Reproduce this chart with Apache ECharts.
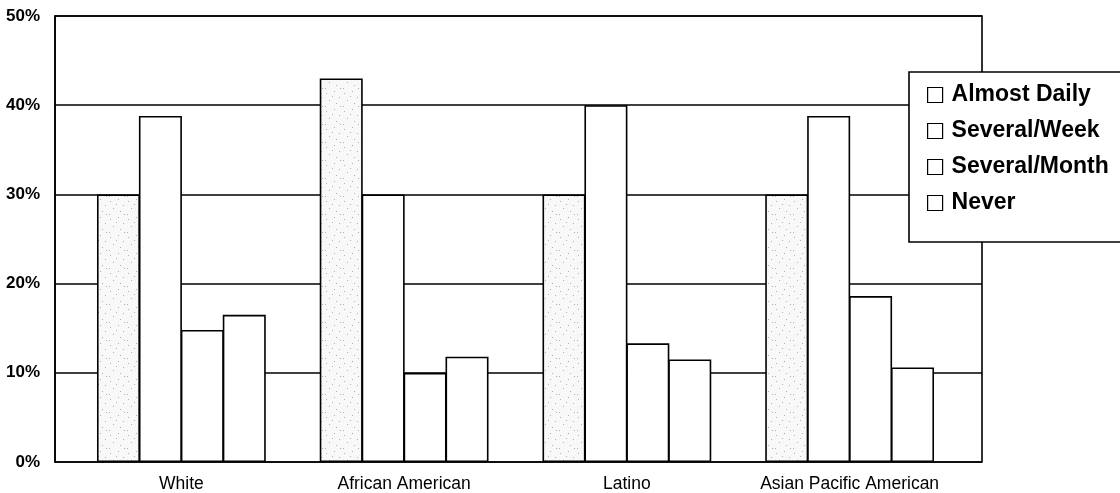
<!DOCTYPE html>
<html>
<head>
<meta charset="utf-8">
<script src="https://cdn.jsdelivr.net/npm/echarts@6/dist/echarts.min.js"></script>
<style>
  html, body { margin: 0; padding: 0; background: #fff; }
  #chart { width: 1120px; height: 493px; }
</style>
</head>
<body>
<div id="chart"></div>
<script>
// Groups along the horizontal axis
const categories = ['White', 'African American', 'Latino', 'Asian Pacific American'];

// Share of each group (percent) per frequency
const almostDaily  = [30, 43, 30, 30];
const severalWeek  = [38.8, 30, 40, 38.8];
const severalMonth = [14.8, 10, 13.3, 18.6];
const never        = [16.5, 11.8, 11.5, 10.6];

const seriesNames = ['Almost Daily', 'Several/Week', 'Several/Month', 'Never'];
const yTicks = [0, 10, 20, 30, 40, 50];

// Light speckled texture for the first series
function speckle() {
  const c = document.createElement('canvas');
  c.width = 18; c.height = 18;
  const g = c.getContext('2d');
  g.fillStyle = '#f8f8f8';
  g.fillRect(0, 0, 18, 18);
  const dots = [[2,3],[10,1],[15,7],[5,10],[12,13],[1,16],[8,6],[16,16]];
  g.fillStyle = '#b0b0b0';
  dots.forEach(([x, y]) => g.fillRect(x, y, 1, 1));
  return c;
}

const chart = echarts.init(document.getElementById('chart'), null, { renderer: 'canvas' });

const font = '"Liberation Sans", Arial, sans-serif';
const border = { borderColor: '#000', borderWidth: 1.6 };

const fills = [
  { image: speckle(), repeat: 'repeat' },
  '#fff', '#fff', '#fff'
];
const values = [almostDaily, severalWeek, severalMonth, never];

chart.setOption({
  animation: false,
  backgroundColor: '#fff',
  grid: [
    // frame with the gridlines
    { left: 55, right: 138, top: 16, bottom: 31, show: true, borderColor: '#000', borderWidth: 1.6, backgroundColor: 'transparent' },
    // bars
    { left: 70, right: 159, top: 16, bottom: 31 }
  ],
  xAxis: [
    { gridIndex: 0, type: 'value', min: 0, max: 1, show: false },
    {
      gridIndex: 1, type: 'category', data: categories, boundaryGap: true,
      axisLine: { show: false }, axisTick: { show: false },
      axisLabel: { interval: 0, margin: 13, color: '#000', fontSize: 17.5, fontFamily: font }
    }
  ],
  yAxis: [
    {
      gridIndex: 0, type: 'value', min: yTicks[0], max: yTicks[yTicks.length - 1], interval: 10,
      axisLine: { show: true, lineStyle: { color: '#000', width: 1.6 } },
      axisTick: { show: false },
      splitLine: { show: true, lineStyle: { color: '#000', width: 1.6 } },
      axisLabel: { formatter: '{value}%', margin: 15, color: '#000', fontSize: 17, fontWeight: 'bold', fontFamily: font }
    },
    { gridIndex: 1, type: 'value', min: 0, max: 50, interval: 10, show: false, splitLine: { show: false } }
  ],
  legend: {
    orient: 'vertical',
    left: 909, top: 72,
    padding: [11, 20, 27, 18],
    itemGap: 12,
    itemWidth: 15, itemHeight: 15,
    icon: 'rect',
    backgroundColor: '#fff',
    borderColor: '#000', borderWidth: 1.6,
    itemStyle: { color: '#fff', borderColor: '#000', borderWidth: 1.2 },
    textStyle: { color: '#000', fontSize: 23, fontWeight: 'bold', fontFamily: font, lineHeight: 24, padding: [0, 0, 0, 4] },
    data: seriesNames
  },
  series: values.map((v, i) => ({
    name: seriesNames[i],
    type: 'bar',
    xAxisIndex: 1, yAxisIndex: 1,
    data: v,
    barWidth: 43,
    barGap: '-2.5%',
    itemStyle: Object.assign({ color: fills[i] }, border)
  }))
});
</script>
</body>
</html>
